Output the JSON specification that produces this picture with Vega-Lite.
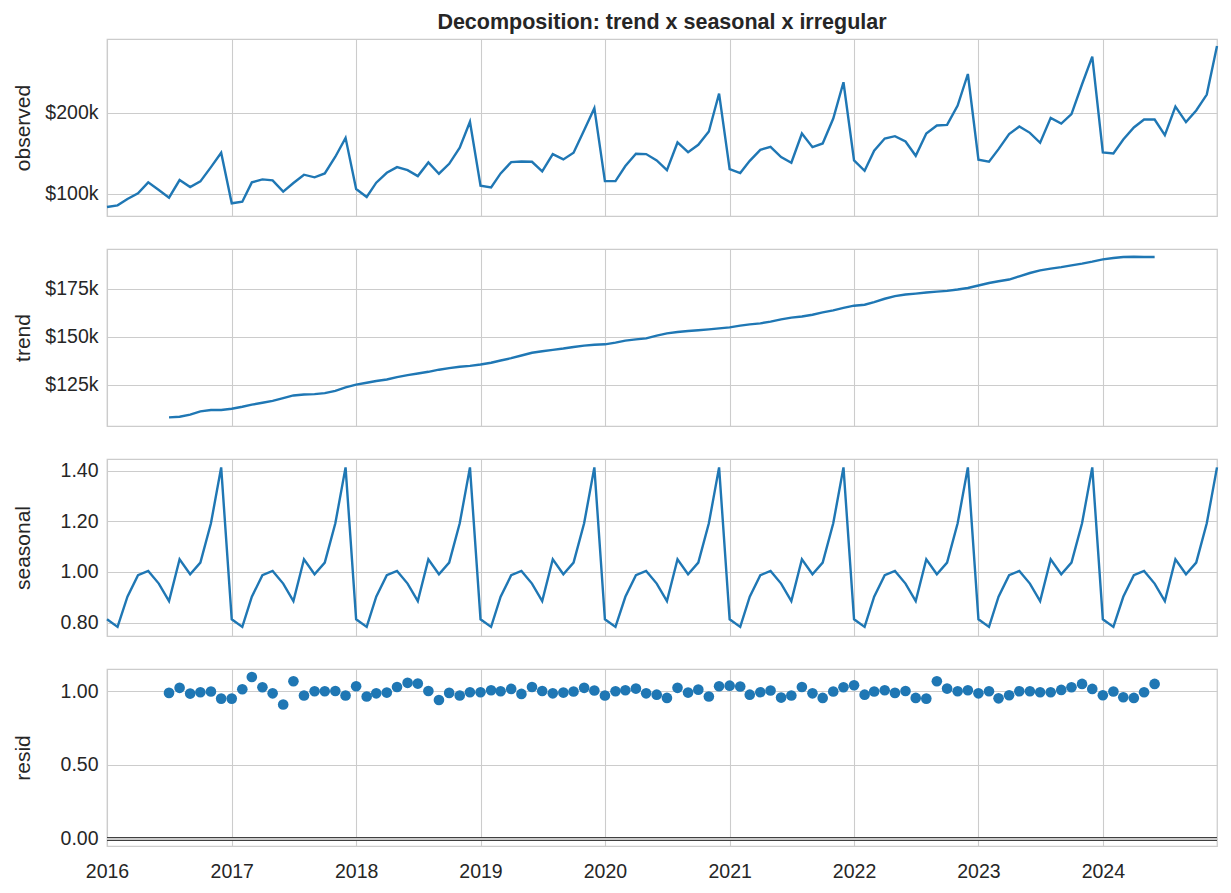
{
  "$schema": "https://vega.github.io/schema/vega-lite/v6.json",
  "background": "white",
  "padding": {"left": 11, "top": 10, "right": 12, "bottom": 10},
  "datasets": {
    "d": [
      {"date": "2016-01-01", "observed": 83500, "trend": null, "seasonal": 0.813, "resid": null},
      {"date": "2016-02-01", "observed": 85600, "trend": null, "seasonal": 0.783, "resid": null},
      {"date": "2016-03-01", "observed": 93400, "trend": null, "seasonal": 0.902, "resid": null},
      {"date": "2016-04-01", "observed": 100400, "trend": null, "seasonal": 0.987, "resid": null},
      {"date": "2016-05-01", "observed": 114000, "trend": null, "seasonal": 1.004, "resid": null},
      {"date": "2016-06-01", "observed": 104500, "trend": null, "seasonal": 0.954, "resid": null},
      {"date": "2016-07-01", "observed": 95100, "trend": 108000, "seasonal": 0.885, "resid": 0.989},
      {"date": "2016-08-01", "observed": 116900, "trend": 108300, "seasonal": 1.050, "resid": 1.023},
      {"date": "2016-09-01", "observed": 108200, "trend": 109400, "seasonal": 0.991, "resid": 0.984},
      {"date": "2016-10-01", "observed": 115200, "trend": 111100, "seasonal": 1.037, "resid": 0.993},
      {"date": "2016-11-01", "observed": 132900, "trend": 111800, "seasonal": 1.192, "resid": 0.998},
      {"date": "2016-12-01", "observed": 150600, "trend": 111800, "seasonal": 1.413, "resid": 0.950},
      {"date": "2017-01-01", "observed": 88100, "trend": 112500, "seasonal": 0.813, "resid": 0.950},
      {"date": "2017-02-01", "observed": 90100, "trend": 113500, "seasonal": 0.783, "resid": 1.014},
      {"date": "2017-03-01", "observed": 114000, "trend": 114600, "seasonal": 0.902, "resid": 1.097},
      {"date": "2017-04-01", "observed": 117700, "trend": 115600, "seasonal": 0.987, "resid": 1.027},
      {"date": "2017-05-01", "observed": 116500, "trend": 116600, "seasonal": 1.004, "resid": 0.986},
      {"date": "2017-06-01", "observed": 102500, "trend": 118000, "seasonal": 0.954, "resid": 0.910},
      {"date": "2017-07-01", "observed": 113200, "trend": 119400, "seasonal": 0.885, "resid": 1.068},
      {"date": "2017-08-01", "observed": 123500, "trend": 119900, "seasonal": 1.050, "resid": 0.971},
      {"date": "2017-09-01", "observed": 120200, "trend": 120100, "seasonal": 0.991, "resid": 1.000},
      {"date": "2017-10-01", "observed": 125100, "trend": 120600, "seasonal": 1.037, "resid": 1.000},
      {"date": "2017-11-01", "observed": 145700, "trend": 121800, "seasonal": 1.192, "resid": 1.002},
      {"date": "2017-12-01", "observed": 169100, "trend": 123600, "seasonal": 1.413, "resid": 0.971},
      {"date": "2018-01-01", "observed": 105800, "trend": 125000, "seasonal": 0.813, "resid": 1.034},
      {"date": "2018-02-01", "observed": 95900, "trend": 126000, "seasonal": 0.783, "resid": 0.964},
      {"date": "2018-03-01", "observed": 113600, "trend": 126900, "seasonal": 0.902, "resid": 0.986},
      {"date": "2018-04-01", "observed": 125900, "trend": 127700, "seasonal": 0.987, "resid": 0.991},
      {"date": "2018-05-01", "observed": 132900, "trend": 128900, "seasonal": 1.004, "resid": 1.029},
      {"date": "2018-06-01", "observed": 129200, "trend": 130000, "seasonal": 0.954, "resid": 1.057},
      {"date": "2018-07-01", "observed": 121800, "trend": 130800, "seasonal": 0.885, "resid": 1.052},
      {"date": "2018-08-01", "observed": 138700, "trend": 131700, "seasonal": 1.050, "resid": 1.002},
      {"date": "2018-09-01", "observed": 124700, "trend": 132800, "seasonal": 0.991, "resid": 0.941},
      {"date": "2018-10-01", "observed": 137000, "trend": 133600, "seasonal": 1.037, "resid": 0.989},
      {"date": "2018-11-01", "observed": 156800, "trend": 134300, "seasonal": 1.192, "resid": 0.971},
      {"date": "2018-12-01", "observed": 188900, "trend": 134800, "seasonal": 1.413, "resid": 0.993},
      {"date": "2019-01-01", "observed": 109900, "trend": 135500, "seasonal": 0.813, "resid": 0.993},
      {"date": "2019-02-01", "observed": 107800, "trend": 136400, "seasonal": 0.783, "resid": 1.007},
      {"date": "2019-03-01", "observed": 125100, "trend": 137600, "seasonal": 0.902, "resid": 1.000},
      {"date": "2019-04-01", "observed": 139100, "trend": 138800, "seasonal": 0.987, "resid": 1.016},
      {"date": "2019-05-01", "observed": 139900, "trend": 140200, "seasonal": 1.004, "resid": 0.982},
      {"date": "2019-06-01", "observed": 139500, "trend": 141600, "seasonal": 0.954, "resid": 1.029},
      {"date": "2019-07-01", "observed": 127600, "trend": 142400, "seasonal": 0.885, "resid": 1.002},
      {"date": "2019-08-01", "observed": 149000, "trend": 143100, "seasonal": 1.050, "resid": 0.986},
      {"date": "2019-09-01", "observed": 142400, "trend": 143800, "seasonal": 0.991, "resid": 0.991},
      {"date": "2019-10-01", "observed": 150600, "trend": 144600, "seasonal": 1.037, "resid": 0.998},
      {"date": "2019-11-01", "observed": 178600, "trend": 145300, "seasonal": 1.192, "resid": 1.023},
      {"date": "2019-12-01", "observed": 205800, "trend": 145800, "seasonal": 1.413, "resid": 1.005},
      {"date": "2020-01-01", "observed": 115600, "trend": 146000, "seasonal": 0.813, "resid": 0.971},
      {"date": "2020-02-01", "observed": 115600, "trend": 146900, "seasonal": 0.783, "resid": 1.000},
      {"date": "2020-03-01", "observed": 134200, "trend": 147900, "seasonal": 0.902, "resid": 1.007},
      {"date": "2020-04-01", "observed": 149400, "trend": 148600, "seasonal": 0.987, "resid": 1.018},
      {"date": "2020-05-01", "observed": 149000, "trend": 149100, "seasonal": 1.004, "resid": 0.986},
      {"date": "2020-06-01", "observed": 141200, "trend": 150500, "seasonal": 0.954, "resid": 0.977},
      {"date": "2020-07-01", "observed": 129200, "trend": 151700, "seasonal": 0.885, "resid": 0.955},
      {"date": "2020-08-01", "observed": 163400, "trend": 152400, "seasonal": 1.050, "resid": 1.023},
      {"date": "2020-09-01", "observed": 151400, "trend": 152900, "seasonal": 0.991, "resid": 0.991},
      {"date": "2020-10-01", "observed": 160500, "trend": 153300, "seasonal": 1.037, "resid": 1.011},
      {"date": "2020-11-01", "observed": 177000, "trend": 153800, "seasonal": 1.192, "resid": 0.964},
      {"date": "2020-12-01", "observed": 223900, "trend": 154300, "seasonal": 1.413, "resid": 1.034},
      {"date": "2021-01-01", "observed": 130500, "trend": 154800, "seasonal": 0.813, "resid": 1.038},
      {"date": "2021-02-01", "observed": 125500, "trend": 155700, "seasonal": 0.783, "resid": 1.032},
      {"date": "2021-03-01", "observed": 140700, "trend": 156400, "seasonal": 0.902, "resid": 0.977},
      {"date": "2021-04-01", "observed": 154300, "trend": 156900, "seasonal": 0.987, "resid": 0.993},
      {"date": "2021-05-01", "observed": 158000, "trend": 157800, "seasonal": 1.004, "resid": 1.005},
      {"date": "2021-06-01", "observed": 145300, "trend": 159000, "seasonal": 0.954, "resid": 0.957},
      {"date": "2021-07-01", "observed": 138300, "trend": 159900, "seasonal": 0.885, "resid": 0.971},
      {"date": "2021-08-01", "observed": 174500, "trend": 160500, "seasonal": 1.050, "resid": 1.029},
      {"date": "2021-09-01", "observed": 157600, "trend": 161400, "seasonal": 0.991, "resid": 0.986},
      {"date": "2021-10-01", "observed": 162100, "trend": 162600, "seasonal": 1.037, "resid": 0.955},
      {"date": "2021-11-01", "observed": 193000, "trend": 163700, "seasonal": 1.192, "resid": 0.998},
      {"date": "2021-12-01", "observed": 237900, "trend": 165000, "seasonal": 1.413, "resid": 1.027},
      {"date": "2022-01-01", "observed": 141200, "trend": 166100, "seasonal": 0.813, "resid": 1.041},
      {"date": "2022-02-01", "observed": 128400, "trend": 166600, "seasonal": 0.783, "resid": 0.977},
      {"date": "2022-03-01", "observed": 153100, "trend": 168000, "seasonal": 0.902, "resid": 0.998},
      {"date": "2022-04-01", "observed": 168300, "trend": 169700, "seasonal": 0.987, "resid": 1.007},
      {"date": "2022-05-01", "observed": 171200, "trend": 171100, "seasonal": 1.004, "resid": 0.989},
      {"date": "2022-06-01", "observed": 164600, "trend": 171900, "seasonal": 0.954, "resid": 1.002},
      {"date": "2022-07-01", "observed": 146900, "trend": 172400, "seasonal": 0.885, "resid": 0.955},
      {"date": "2022-08-01", "observed": 174500, "trend": 173000, "seasonal": 1.050, "resid": 0.950},
      {"date": "2022-09-01", "observed": 184400, "trend": 173400, "seasonal": 0.991, "resid": 1.068},
      {"date": "2022-10-01", "observed": 185200, "trend": 173800, "seasonal": 1.037, "resid": 1.018},
      {"date": "2022-11-01", "observed": 209100, "trend": 174500, "seasonal": 1.192, "resid": 1.000},
      {"date": "2022-12-01", "observed": 248100, "trend": 175300, "seasonal": 1.413, "resid": 1.007},
      {"date": "2023-01-01", "observed": 142000, "trend": 176600, "seasonal": 0.813, "resid": 0.986},
      {"date": "2023-02-01", "observed": 139500, "trend": 177900, "seasonal": 0.783, "resid": 1.000},
      {"date": "2023-03-01", "observed": 155100, "trend": 178800, "seasonal": 0.902, "resid": 0.952},
      {"date": "2023-04-01", "observed": 173700, "trend": 179700, "seasonal": 0.987, "resid": 0.973},
      {"date": "2023-05-01", "observed": 183100, "trend": 181400, "seasonal": 1.004, "resid": 1.000},
      {"date": "2023-06-01", "observed": 175300, "trend": 183100, "seasonal": 0.954, "resid": 1.000},
      {"date": "2023-07-01", "observed": 163000, "trend": 184500, "seasonal": 0.885, "resid": 0.993},
      {"date": "2023-08-01", "observed": 193800, "trend": 185400, "seasonal": 1.050, "resid": 0.993},
      {"date": "2023-09-01", "observed": 186800, "trend": 186200, "seasonal": 0.991, "resid": 1.009},
      {"date": "2023-10-01", "observed": 198400, "trend": 187100, "seasonal": 1.037, "resid": 1.027},
      {"date": "2023-11-01", "observed": 235400, "trend": 188000, "seasonal": 1.192, "resid": 1.050},
      {"date": "2023-12-01", "observed": 269500, "trend": 189000, "seasonal": 1.413, "resid": 1.016},
      {"date": "2024-01-01", "observed": 151000, "trend": 190200, "seasonal": 0.813, "resid": 0.973},
      {"date": "2024-02-01", "observed": 149800, "trend": 190900, "seasonal": 0.783, "resid": 0.998},
      {"date": "2024-03-01", "observed": 167100, "trend": 191400, "seasonal": 0.902, "resid": 0.959},
      {"date": "2024-04-01", "observed": 181900, "trend": 191600, "seasonal": 0.987, "resid": 0.955},
      {"date": "2024-05-01", "observed": 191800, "trend": 191400, "seasonal": 1.004, "resid": 0.993},
      {"date": "2024-06-01", "observed": 191800, "trend": 191400, "seasonal": 0.954, "resid": 1.050},
      {"date": "2024-07-01", "observed": 172400, "trend": null, "seasonal": 0.885, "resid": null},
      {"date": "2024-08-01", "observed": 207800, "trend": null, "seasonal": 1.050, "resid": null},
      {"date": "2024-09-01", "observed": 188500, "trend": null, "seasonal": 0.991, "resid": null},
      {"date": "2024-10-01", "observed": 202900, "trend": null, "seasonal": 1.037, "resid": null},
      {"date": "2024-11-01", "observed": 222600, "trend": null, "seasonal": 1.192, "resid": null},
      {"date": "2024-12-01", "observed": 282700, "trend": null, "seasonal": 1.413, "resid": null}
    ]
  },
  "config": {
    "font": "Liberation Sans",
    "view": {"stroke": "#cccccc", "strokeWidth": 1.25},
    "axis": {
      "gridColor": "#cccccc",
      "gridWidth": 1.1,
      "domain": false,
      "ticks": false,
      "labelFont": "Liberation Sans",
      "labelFontSize": 19.5,
      "labelColor": "#262626",
      "titleFont": "Liberation Sans",
      "titleFontSize": 21,
      "titleFontWeight": "normal",
      "titleColor": "#262626"
    },
    "axisY": {"minExtent": 62, "maxExtent": 62, "labelPadding": 9, "titlePadding": 12},
    "line": {"color": "#1f77b4", "strokeWidth": 2.4},
    "concat": {"spacing": 31}
  },
  "vconcat": [
    {
      "width": 1110,
      "height": 177,
      "data": {"name": "d"},
      "title": {
        "text": "Decomposition: trend x seasonal x irregular",
        "font": "Liberation Sans",
        "fontSize": 21.5,
        "fontWeight": "bold",
        "color": "#262626",
        "anchor": "middle",
        "frame": "group",
        "offset": 6
      },
      "mark": {"type": "line"},
      "encoding": {
        "x": {
          "field": "date",
          "type": "temporal",
          "scale": {"type": "utc", "domain": [{"year": 2016, "month": 1, "date": 1, "utc": true}, {"year": 2024, "month": 12, "date": 1, "utc": true}]},
          "axis": {"title": null, "labels": false, "tickCount": "year", "grid": true}
        },
        "y": {
          "field": "observed",
          "type": "quantitative",
          "scale": {"domain": [72400, 291400], "nice": false, "zero": false},
          "axis": {"title": "observed", "values": [100000, 200000], "format": "$.3s"}
        }
      }
    },
    {
      "width": 1110,
      "height": 177,
      "data": {"name": "d"},
      "mark": {"type": "line"},
      "encoding": {
        "x": {
          "field": "date",
          "type": "temporal",
          "scale": {"type": "utc", "domain": [{"year": 2016, "month": 1, "date": 1, "utc": true}, {"year": 2024, "month": 12, "date": 1, "utc": true}]},
          "axis": {"title": null, "labels": false, "tickCount": "year", "grid": true}
        },
        "y": {
          "field": "trend",
          "type": "quantitative",
          "scale": {"domain": [103500, 195600], "nice": false, "zero": false},
          "axis": {"title": "trend", "values": [125000, 150000, 175000], "format": "$.3s"}
        }
      }
    },
    {
      "width": 1110,
      "height": 177,
      "data": {"name": "d"},
      "mark": {"type": "line"},
      "encoding": {
        "x": {
          "field": "date",
          "type": "temporal",
          "scale": {"type": "utc", "domain": [{"year": 2016, "month": 1, "date": 1, "utc": true}, {"year": 2024, "month": 12, "date": 1, "utc": true}]},
          "axis": {"title": null, "labels": false, "tickCount": "year", "grid": true}
        },
        "y": {
          "field": "seasonal",
          "type": "quantitative",
          "scale": {"domain": [0.747, 1.446], "nice": false, "zero": false},
          "axis": {"title": "seasonal", "values": [0.8, 1.0, 1.2, 1.4], "format": ".2f"}
        }
      }
    },
    {
      "width": 1110,
      "height": 177,
      "data": {"name": "d"},
      "layer": [
        {
          "mark": {"type": "circle", "color": "#1f77b4", "opacity": 1, "size": 113},
          "encoding": {
            "x": {
              "field": "date",
              "type": "temporal",
              "scale": {"type": "utc", "domain": [{"year": 2016, "month": 1, "date": 1, "utc": true}, {"year": 2024, "month": 12, "date": 1, "utc": true}]},
              "axis": {"title": null, "tickCount": "year", "grid": true, "labelFlush": false, "labelPadding": 16, "labelExpr": "utcFormat(datum.value, '%Y')"}
            },
            "y": {
              "field": "resid",
              "type": "quantitative",
              "scale": {"domain": [-0.05, 1.151], "nice": false, "zero": false},
              "axis": {"title": "resid", "values": [0, 0.5, 1.0], "format": ".2f"}
            }
          }
        },
        {
          "mark": {"type": "rule", "color": "#404040", "strokeWidth": 3.2},
          "encoding": {"y": {"datum": 0, "type": "quantitative"}}
        },
        {
          "mark": {"type": "rule", "color": "#cccccc", "strokeWidth": 1.2},
          "encoding": {"y": {"datum": 0, "type": "quantitative"}}
        }
      ]
    }
  ]
}
